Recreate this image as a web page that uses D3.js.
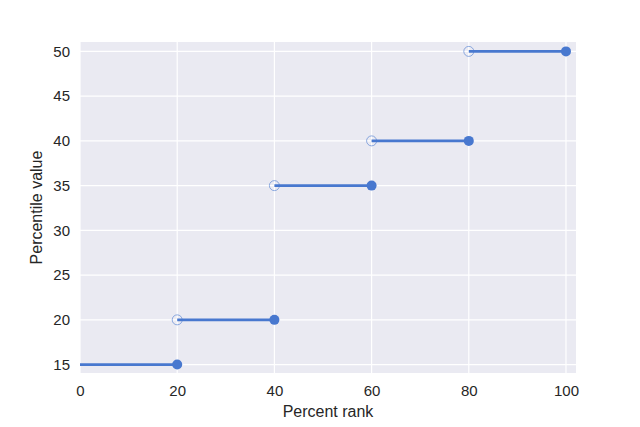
<!DOCTYPE html>
<html>
<head>
<meta charset="utf-8">
<script src="https://cdn.jsdelivr.net/npm/d3@7"></script>
<style>
  body { margin: 0; background: #fff; }
  svg { display: block; font-family: "Liberation Sans", Arial, sans-serif; }
  .tick text { fill: #262626; font-size: 15px; }
</style>
</head>
<body>
<svg id="chart" width="640" height="427"></svg>
<script>
// step segments: start rank, end rank, percentile value
const startRanks = [0, 20, 40, 60, 80];
const endRanks = [20, 40, 60, 80, 100];
const percentileValues = [15, 20, 35, 40, 50];
const xTicks = [0, 20, 40, 60, 80, 100];
const yTicks = [15, 20, 25, 30, 35, 40, 45, 50];

const BLUE = '#4878CF';
const svg = d3.select('#chart');
const plot = {left: 80, right: 576, top: 42, bottom: 373};

const x = d3.scaleLinear().domain([0, 102.06]).range([plot.left, plot.right]);
const y = d3.scaleLinear().domain([14.06, 51.05]).range([plot.bottom, plot.top]);

svg.append('rect')
  .attr('x', plot.left).attr('y', plot.top)
  .attr('width', plot.right - plot.left).attr('height', plot.bottom - plot.top)
  .attr('fill', '#EAEAF2');

// grid
const grid = svg.append('g');
grid.selectAll('.vg').data(xTicks).join('line')
  .attr('x1', d => x(d)).attr('x2', d => x(d))
  .attr('y1', plot.top).attr('y2', plot.bottom)
  .attr('stroke', '#fff').attr('stroke-width', 1.2);
grid.selectAll('.hg').data(yTicks).join('line')
  .attr('x1', plot.left).attr('x2', plot.right)
  .attr('y1', d => y(d)).attr('y2', d => y(d))
  .attr('stroke', '#fff').attr('stroke-width', 1.2);

// axes (no tick lines, no domain)
svg.append('g')
  .attr('transform', `translate(0,${plot.bottom})`)
  .call(d3.axisBottom(x).tickValues(xTicks).tickSize(0).tickPadding(12));
svg.append('g')
  .attr('transform', `translate(${plot.left},0)`)
  .call(d3.axisLeft(y).tickValues(yTicks).tickSize(0).tickPadding(10));
svg.selectAll('.domain').remove();

const steps = percentileValues.map((v, i) => ({x0: startRanks[i], x1: endRanks[i], v, i}));

// open markers at the start of each step (except first)
svg.append('g').selectAll('circle').data(steps.filter(d => d.i > 0)).join('circle')
  .attr('cx', d => x(d.x0)).attr('cy', d => y(d.v)).attr('r', 5)
  .attr('fill', 'none').attr('stroke', BLUE).attr('stroke-opacity', 0.75).attr('stroke-width', 0.8);

svg.append('g').selectAll('line').data(steps).join('line')
  .attr('x1', d => x(d.x0)).attr('x2', d => x(d.x1))
  .attr('y1', d => y(d.v)).attr('y2', d => y(d.v))
  .attr('stroke', BLUE).attr('stroke-width', 2.7);

svg.append('g').selectAll('circle').data(steps).join('circle')
  .attr('cx', d => x(d.x1)).attr('cy', d => y(d.v)).attr('r', 5)
  .attr('fill', BLUE);

svg.append('text')
  .attr('x', (plot.left + plot.right) / 2).attr('y', 417)
  .attr('text-anchor', 'middle').attr('fill', '#262626').attr('font-size', 16)
  .text('Percent rank');
svg.append('text')
  .attr('transform', `translate(42,${(plot.top + plot.bottom) / 2}) rotate(-90)`)
  .attr('text-anchor', 'middle').attr('fill', '#262626').attr('font-size', 16)
  .text('Percentile value');
</script>
</body>
</html>
